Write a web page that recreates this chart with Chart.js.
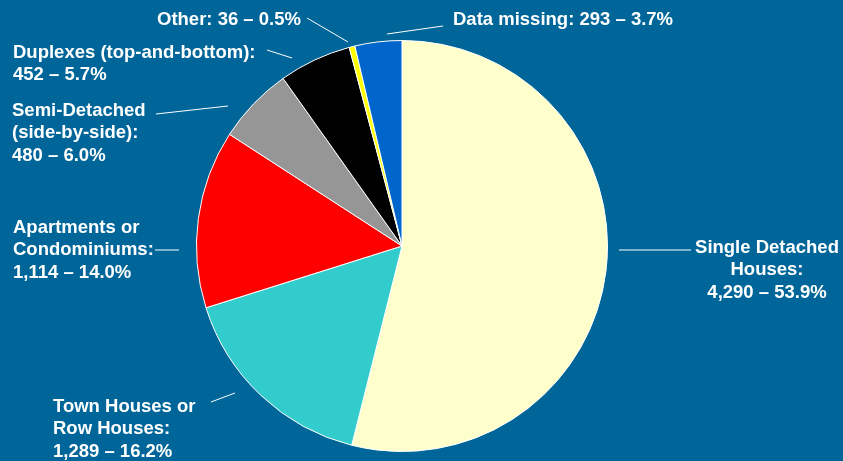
<!DOCTYPE html>
<html>
<head>
<meta charset="utf-8">
<script src="https://cdn.jsdelivr.net/npm/chart.js@4.4.1/dist/chart.umd.min.js"></script>
<style>
  html, body { margin: 0; padding: 0; background: #006699; }
  canvas { display: block; }
</style>
</head>
<body>
<canvas id="dwellingChart" width="843" height="461"></canvas>
<script>
// Dwelling types, clockwise from 12 o'clock
const categories = [
    'Single Detached Houses',
    'Town Houses or Row Houses',
    'Apartments or Condominiums',
    'Semi-Detached (side-by-side)',
    'Duplexes (top-and-bottom)',
    'Other',
    'Data missing'
];
const counts = [4290, 1289, 1114, 480, 452, 36, 293];
const percents = ['53.9%', '16.2%', '14.0%', '6.0%', '5.7%', '0.5%', '3.7%'];
const sliceColors = ['#FFFFCC', '#33CCCC', '#FF0000', '#969696', '#000000', '#FFFF00', '#0066CC'];

// Label text lines as shown on the slide
const labelLines = [
    ['Single Detached', 'Houses:'],
    ['Town Houses or', 'Row Houses:'],
    ['Apartments or', 'Condominiums:'],
    ['Semi-Detached', '(side-by-side):'],
    ['Duplexes (top-and-bottom):'],
    ['Other:'],
    ['Data missing:']
];

// Label placement (text anchor + leader line), layout only
const labelLayout = [
    { x: 767, y: 253, align: 'center', line: [619, 250, 691, 250] },
    { x: 53, y: 412, align: 'left', line: [211, 402, 235, 393] },
    { x: 13, y: 233, align: 'left', line: [155, 250, 179, 250] },
    { x: 12, y: 116, align: 'left', line: [156, 114, 228, 106] },
    { x: 13, y: 58, align: 'left', line: [267, 50, 292, 58] },
    { x: 157, y: 25, align: 'left', inline: true, line: [307, 18, 348, 42] },
    { x: 453, y: 25, align: 'left', inline: true, line: [387, 34, 443, 26] }
];

function fmt(n) {
    return n.toLocaleString('en-US');
}

// Draws the slide-style labels with leader lines
const calloutPlugin = {
    id: 'callouts',
    afterDraw(chart) {
        const ctx = chart.ctx;
        ctx.save();
        ctx.fillStyle = '#FFFFFF';
        ctx.strokeStyle = '#FFFFFF';
        ctx.lineWidth = 1;
        ctx.font = 'bold 18.5px "Liberation Sans", Arial, sans-serif';
        ctx.textBaseline = 'alphabetic';
        const lineHeight = 22.3;

        labelLayout.forEach((lay, i) => {
            const valueText = fmt(counts[i]) + ' \u2013 ' + percents[i];
            let lines;
            if (lay.inline) {
                lines = [labelLines[i][0] + ' ' + valueText];
            } else {
                lines = labelLines[i].concat([valueText]);
            }
            ctx.textAlign = lay.align;
            lines.forEach((t, k) => {
                ctx.fillText(t, lay.x, lay.y + k * lineHeight);
            });

            const l = lay.line;
            ctx.beginPath();
            ctx.moveTo(l[0], l[1]);
            ctx.lineTo(l[2], l[3]);
            ctx.stroke();
        });
        ctx.restore();
    }
};

new Chart(document.getElementById('dwellingChart').getContext('2d'), {
    type: 'pie',
    data: {
        labels: categories,
        datasets: [{
            data: counts,
            backgroundColor: sliceColors,
            borderColor: '#FFFFFF',
            borderWidth: 1
        }]
    },
    options: {
        responsive: false,
        animation: false,
        layout: {
            padding: { top: 40, bottom: 9, left: 0, right: 39 }
        },
        plugins: {
            legend: { display: false },
            tooltip: { enabled: false }
        }
    },
    plugins: [calloutPlugin]
});
</script>
</body>
</html>
